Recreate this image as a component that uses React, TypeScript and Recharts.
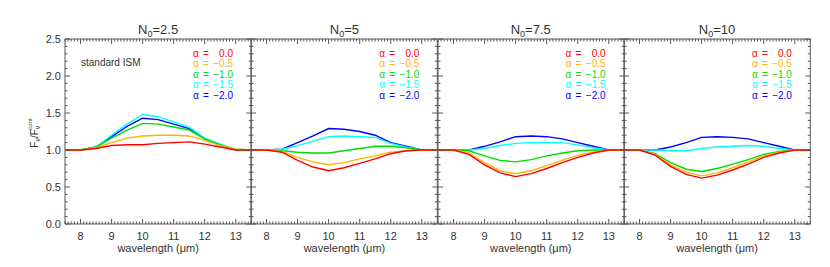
import { LineChart, Line, XAxis, YAxis } from "recharts";

// wavelength grid (micron)
const wavelength = [7.5, 8, 8.5, 9, 9.5, 10, 10.5, 11, 11.5, 12, 12.5, 13, 13.5];

const alphaLabels = ["0.0", "\u22120.5", "\u22121.0", "\u22121.5", "\u22122.0"];
const alphaColors = ["#ff0000", "#ffb400", "#00dd00", "#00ffff", "#0000ff"];
const panelTitles = ["2.5", "5", "7.5", "10"];

// F_nu / F_nu,cont, one row per alpha (0.0, -0.5, -1.0, -1.5, -2.0)
const fluxN2p5 = [
  [1.0, 1.0, 1.02, 1.06, 1.07, 1.07, 1.09, 1.1, 1.11, 1.08, 1.04, 1.0, 1.0],
  [1.0, 1.0, 1.03, 1.1, 1.16, 1.19, 1.2, 1.2, 1.19, 1.13, 1.06, 1.01, 1.0],
  [1.0, 1.0, 1.04, 1.16, 1.27, 1.36, 1.35, 1.31, 1.27, 1.15, 1.07, 1.01, 1.0],
  [1.0, 1.0, 1.04, 1.2, 1.35, 1.48, 1.45, 1.38, 1.31, 1.16, 1.08, 1.0, 1.0],
  [1.0, 1.0, 1.04, 1.18, 1.32, 1.43, 1.41, 1.35, 1.29, 1.15, 1.07, 1.0, 1.0],
];
const fluxN5 = [
  [1.0, 1.0, 0.97, 0.86, 0.77, 0.72, 0.76, 0.82, 0.88, 0.95, 0.99, 1.0, 1.0],
  [1.0, 1.0, 0.98, 0.9, 0.84, 0.8, 0.83, 0.88, 0.92, 0.97, 0.99, 1.0, 1.0],
  [1.0, 1.0, 0.99, 0.97, 0.96, 0.96, 0.99, 1.02, 1.05, 1.05, 1.03, 1.0, 1.0],
  [1.0, 1.0, 1.01, 1.06, 1.12, 1.18, 1.19, 1.18, 1.17, 1.09, 1.04, 1.0, 1.0],
  [1.0, 1.0, 1.01, 1.1, 1.19, 1.29, 1.28, 1.25, 1.2, 1.1, 1.05, 1.0, 1.0],
];
const fluxN7p5 = [
  [1.0, 1.0, 0.94, 0.8, 0.69, 0.64, 0.68, 0.75, 0.83, 0.9, 0.96, 1.0, 1.0],
  [1.0, 1.0, 0.96, 0.83, 0.72, 0.68, 0.72, 0.79, 0.86, 0.93, 0.97, 1.0, 1.0],
  [1.0, 1.0, 0.99, 0.92, 0.86, 0.84, 0.87, 0.92, 0.96, 0.99, 1.0, 1.0, 1.0],
  [1.0, 1.0, 1.0, 1.02, 1.06, 1.09, 1.1, 1.1, 1.1, 1.07, 1.03, 1.0, 1.0],
  [1.0, 1.0, 1.0, 1.05, 1.11, 1.18, 1.19, 1.18, 1.15, 1.1, 1.05, 1.0, 1.0],
];
const fluxN10 = [
  [1.0, 1.0, 0.93, 0.78, 0.67, 0.62, 0.66, 0.73, 0.81, 0.9, 0.96, 1.0, 1.0],
  [1.0, 1.0, 0.94, 0.8, 0.7, 0.65, 0.69, 0.76, 0.84, 0.92, 0.97, 1.0, 1.0],
  [1.0, 1.0, 0.95, 0.83, 0.74, 0.71, 0.75, 0.81, 0.87, 0.94, 0.98, 1.0, 1.0],
  [1.0, 1.0, 1.0, 0.99, 0.99, 1.02, 1.04, 1.05, 1.06, 1.05, 1.02, 1.0, 1.0],
  [1.0, 1.0, 1.0, 1.04, 1.1, 1.17, 1.18, 1.17, 1.15, 1.1, 1.05, 1.0, 1.0],
];
const panelFlux = [fluxN2p5, fluxN5, fluxN7p5, fluxN10];

const xMajor = [8, 9, 10, 11, 12, 13];
const yMajor = [0, 0.5, 1, 1.5, 2, 2.5];
const xTicks = Array.from({ length: 61 }, (_, i) => Math.round(75 + i) / 10);
const yTicks = Array.from({ length: 26 }, (_, i) => i / 10);

const FONT = "'Liberation Sans', Arial, sans-serif";
const AXIS = "#555";
const TEXT = "#333";
const PLOT_W = 186.3;
const LEFT = 65;

const near = (arr: number[], v: number) => arr.some((m) => Math.abs(m - v) < 1e-6);

function BottomTick({ x, y, payload, showLabel }: any) {
  const major = near(xMajor, payload.value);
  return (
    <g>
      <line x1={x} x2={x} y1={y} y2={y - (major ? 5 : 2.5)} stroke={AXIS} />
      {major && showLabel && (
        <text x={x} y={y + 16} textAnchor="middle" fontSize={11} fill={TEXT} fontFamily={FONT}>
          {payload.value}
        </text>
      )}
    </g>
  );
}

function TopTick({ x, y, payload }: any) {
  const major = near(xMajor, payload.value);
  return <line x1={x} x2={x} y1={y} y2={y + (major ? 5 : 2.5)} stroke={AXIS} />;
}

function LeftTick({ x, y, payload, showLabel }: any) {
  const major = near(yMajor, payload.value);
  return (
    <g>
      <line x1={x} x2={x + (major ? 5 : 2.5)} y1={y} y2={y} stroke={AXIS} />
      {major && showLabel && (
        <text x={x - 4} y={y + 4} textAnchor="end" fontSize={11} fill={TEXT} fontFamily={FONT}>
          {payload.value.toFixed(1)}
        </text>
      )}
    </g>
  );
}

function RightTick({ x, y, payload }: any) {
  const major = near(yMajor, payload.value);
  return <line x1={x} x2={x - (major ? 5 : 2.5)} y1={y} y2={y} stroke={AXIS} />;
}

function Panel({ index }: { index: number }) {
  const flux = panelFlux[index];
  const rows = wavelength.map((w, i) => {
    const row: any = { w };
    flux.forEach((s, k) => (row["a" + k] = s[i]));
    return row;
  });
  const showY = index === 0;
  const left = index * PLOT_W;
  return (
    <div style={{ position: "absolute", left, top: 0 }}>
      <LineChart width={LEFT + PLOT_W + 3} height={267} data={rows} margin={{ top: 38, right: 2, bottom: 0, left: 0 }}>
        <XAxis
          dataKey="w"
          type="number"
          domain={[7.5, 13.5]}
          ticks={xTicks}
          interval={0}
          height={43}
          tickSize={0}
          tickMargin={0}
          tickLine={false}
          axisLine={{ stroke: AXIS }}
          tick={(p: any) => <BottomTick {...p} showLabel />}
          allowDataOverflow
        />
        <XAxis
          xAxisId="top"
          orientation="top"
          dataKey="w"
          type="number"
          domain={[7.5, 13.5]}
          ticks={xTicks}
          interval={0}
          height={1}
          tickSize={0}
          tickMargin={0}
          tickLine={false}
          axisLine={{ stroke: AXIS }}
          tick={(p: any) => <TopTick {...p} />}
          allowDataOverflow
        />
        <YAxis
          type="number"
          domain={[0, 2.5]}
          ticks={yTicks}
          interval={0}
          width={LEFT}
          tickSize={0}
          tickMargin={0}
          tickLine={false}
          axisLine={{ stroke: AXIS }}
          tick={(p: any) => <LeftTick {...p} showLabel={showY} />}
          allowDataOverflow
        />
        <YAxis
          yAxisId="right"
          orientation="right"
          type="number"
          domain={[0, 2.5]}
          ticks={yTicks}
          interval={0}
          width={1}
          tickSize={0}
          tickMargin={0}
          tickLine={false}
          axisLine={{ stroke: AXIS }}
          tick={(p: any) => <RightTick {...p} />}
          allowDataOverflow
        />
        {[4, 3, 2, 1, 0].map((k) => (
          <Line
            key={k}
            type="linear"
            dataKey={"a" + k}
            stroke={alphaColors[k]}
            strokeWidth={1.4}
            dot={false}
            isAnimationActive={false}
          />
        ))}
      </LineChart>
    </div>
  );
}

function Overlay() {
  return (
    <svg width={830} height={267} style={{ position: "absolute", left: 0, top: 0, pointerEvents: "none" }} fontFamily={FONT}>
      {panelTitles.map((t, i) => {
        const cx = LEFT + i * PLOT_W + PLOT_W / 2;
        return (
          <g key={t}>
            <text x={cx} y={34} textAnchor="middle" fontSize={13} fill={TEXT}>
              N<tspan dy={3} fontSize={9}>0</tspan>
              <tspan dy={-3}>={t}</tspan>
            </text>
            <text x={cx} y={252} textAnchor="middle" fontSize={11} fill={TEXT}>
              wavelength (μm)
            </text>
            {alphaLabels.map((a, k) => {
              const lx = LEFT + i * PLOT_W + 128;
              const ly = 56.5 + k * 10.5;
              return (
                <g key={a} fill={alphaColors[k]} fontSize={10}>
                  <text x={lx} y={ly}>α</text>
                  <text x={lx + 10} y={ly}>=</text>
                  <text x={lx + 40} y={ly} textAnchor="end">{a}</text>
                </g>
              );
            })}
          </g>
        );
      })}
      <text x={81} y={65.5} fontSize={10} fill={TEXT}>standard ISM</text>
      <text transform="translate(38,133) rotate(-90)" textAnchor="middle" fontSize={10} fill={TEXT}>
        F<tspan dy={2} fontSize={7}>ν</tspan>
        <tspan dy={-2}>/F</tspan>
        <tspan dy={2} fontSize={7}>ν</tspan>
        <tspan dx={-4} dy={-8} fontSize={6}>cont</tspan>
      </text>
    </svg>
  );
}

export default function App() {
  return (
    <div style={{ position: "absolute", left: 0, top: 0, width: 830, height: 267, background: "#fff" }}>
      {panelTitles.map((_, i) => (
        <Panel key={i} index={i} />
      ))}
      <Overlay />
    </div>
  );
}
